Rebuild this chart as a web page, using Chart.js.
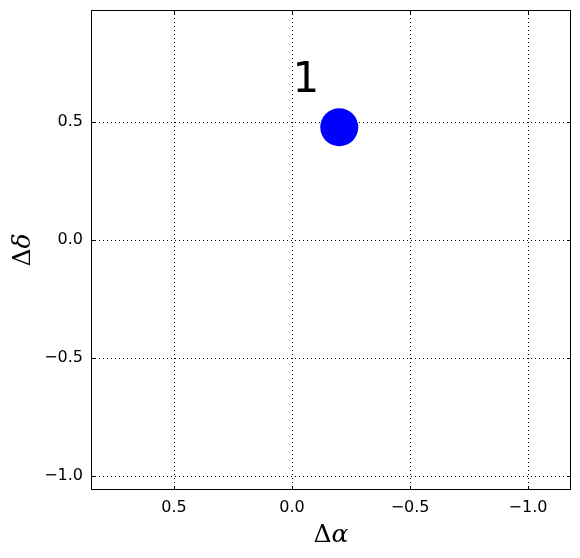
<!DOCTYPE html>
<html>
<head>
<meta charset="utf-8">
<script src="https://cdn.jsdelivr.net/npm/chart.js@4.4.1/dist/chart.umd.min.js"></script>
<style>
  html, body { margin: 0; padding: 0; background: #fff; overflow: hidden; }
</style>
</head>
<body>
<canvas id="offsetChart" width="580" height="558"></canvas>
<script>
// source offsets (arcsec)
const labels = ['1'];
const dAlpha = [-0.2];
const dDelta = [0.478];

// axis limits and tick values
const xLimits = [-1.182, 0.852];
const yLimits = [-1.059, 0.975];
const xTicks = [0.5, 0.0, -0.5, -1.0];
const yTicks = [0.5, 0.0, -0.5, -1.0];

const fmt = v => (v < 0 ? '\u2212' : '') + Math.abs(v).toFixed(1);

// frame, inward ticks, point label and axis titles (matplotlib classic look)
const framePlugin = {
    id: 'frame',
    afterDraw(chart) {
        const { ctx, chartArea: a, scales } = chart;
        ctx.save();
        ctx.strokeStyle = '#000';
        ctx.lineWidth = 1;
        ctx.setLineDash([]);
        ctx.strokeRect(a.left + 0.5, a.top + 0.5, a.right - a.left - 1, a.bottom - a.top - 1);

        ctx.beginPath();
        xTicks.forEach(t => {
            const px = Math.round(scales.x.getPixelForValue(t)) + 0.5;
            ctx.moveTo(px, a.bottom); ctx.lineTo(px, a.bottom - 4);
            ctx.moveTo(px, a.top); ctx.lineTo(px, a.top + 4);
        });
        yTicks.forEach(t => {
            const py = Math.round(scales.y.getPixelForValue(t)) + 0.5;
            ctx.moveTo(a.left, py); ctx.lineTo(a.left + 4, py);
            ctx.moveTo(a.right, py); ctx.lineTo(a.right - 4, py);
        });
        ctx.stroke();

        // label above each point
        ctx.fillStyle = '#000';
        ctx.font = '42px "DejaVu Sans"';
        ctx.textAlign = 'center';
        ctx.textBaseline = 'alphabetic';
        labels.forEach((lab, i) => {
            const px = scales.x.getPixelForValue(dAlpha[i] + 0.141);
            const py = scales.y.getPixelForValue(dDelta[i] + 0.149);
            ctx.fillText(lab, px, py);
        });

        // axis titles: upright Delta + italic greek
        const drawTitle = (cx, cy, greek, rot) => {
            ctx.save();
            ctx.translate(cx, cy);
            ctx.rotate(rot);
            ctx.font = '25px "DejaVu Serif"';
            const w1 = ctx.measureText('\u0394').width;
            ctx.font = 'italic 25px "DejaVu Serif"';
            const w2 = ctx.measureText(greek).width;
            const x0 = -(w1 + w2) / 2;
            ctx.textAlign = 'left';
            ctx.textBaseline = 'middle';
            ctx.font = '25px "DejaVu Serif"';
            ctx.fillText('\u0394', x0, 0);
            ctx.font = 'italic 25px "DejaVu Serif"';
            ctx.fillText(greek, x0 + w1, 0);
            ctx.restore();
        };
        drawTitle((a.left + a.right) / 2, 535, '\u03b1', 0);
        drawTitle(23, (a.top + a.bottom) / 2, '\u03b4', -Math.PI / 2);
        ctx.restore();
    }
};

const gridOpts = { color: '#000', lineWidth: 1, drawTicks: false };
const tickFont = { family: "'DejaVu Sans', sans-serif", size: 16 };

new Chart(document.getElementById('offsetChart'), {
    type: 'scatter',
    data: {
        datasets: [{
            data: dAlpha.map((x, i) => ({ x, y: dDelta[i] })),
            backgroundColor: '#0000ff',
            borderWidth: 0,
            pointRadius: 19,
            pointHoverRadius: 19
        }]
    },
    options: {
        responsive: false,
        animation: false,
        events: [],
        layout: { autoPadding: false, padding: { left: 0, right: 9, top: 10, bottom: 0 } },
        plugins: { legend: { display: false }, tooltip: { enabled: false } },
        scales: {
            x: {
                type: 'linear',
                reverse: true,
                min: xLimits[0],
                max: xLimits[1],
                afterBuildTicks: s => { s.ticks = xTicks.map(v => ({ value: v })); },
                afterFit: s => { s.height = 68; s.paddingLeft = 0; s.paddingRight = 0; },
                grid: gridOpts,
                border: { display: false, dash: [1, 3] },
                ticks: {
                    color: '#000',
                    padding: 8,
                    maxRotation: 0,
                    font: tickFont,
                    callback: v => fmt(v)
                }
            },
            y: {
                type: 'linear',
                min: yLimits[0],
                max: yLimits[1],
                afterBuildTicks: s => { s.ticks = yTicks.map(v => ({ value: v })); },
                afterFit: s => { s.width = 91; s.paddingTop = 0; s.paddingBottom = 0; },
                grid: gridOpts,
                border: { display: false, dash: [1, 3] },
                ticks: {
                    color: '#000',
                    padding: 8,
                    font: tickFont,
                    callback: v => fmt(v)
                }
            }
        }
    },
    plugins: [framePlugin]
});
</script>
</body>
</html>
